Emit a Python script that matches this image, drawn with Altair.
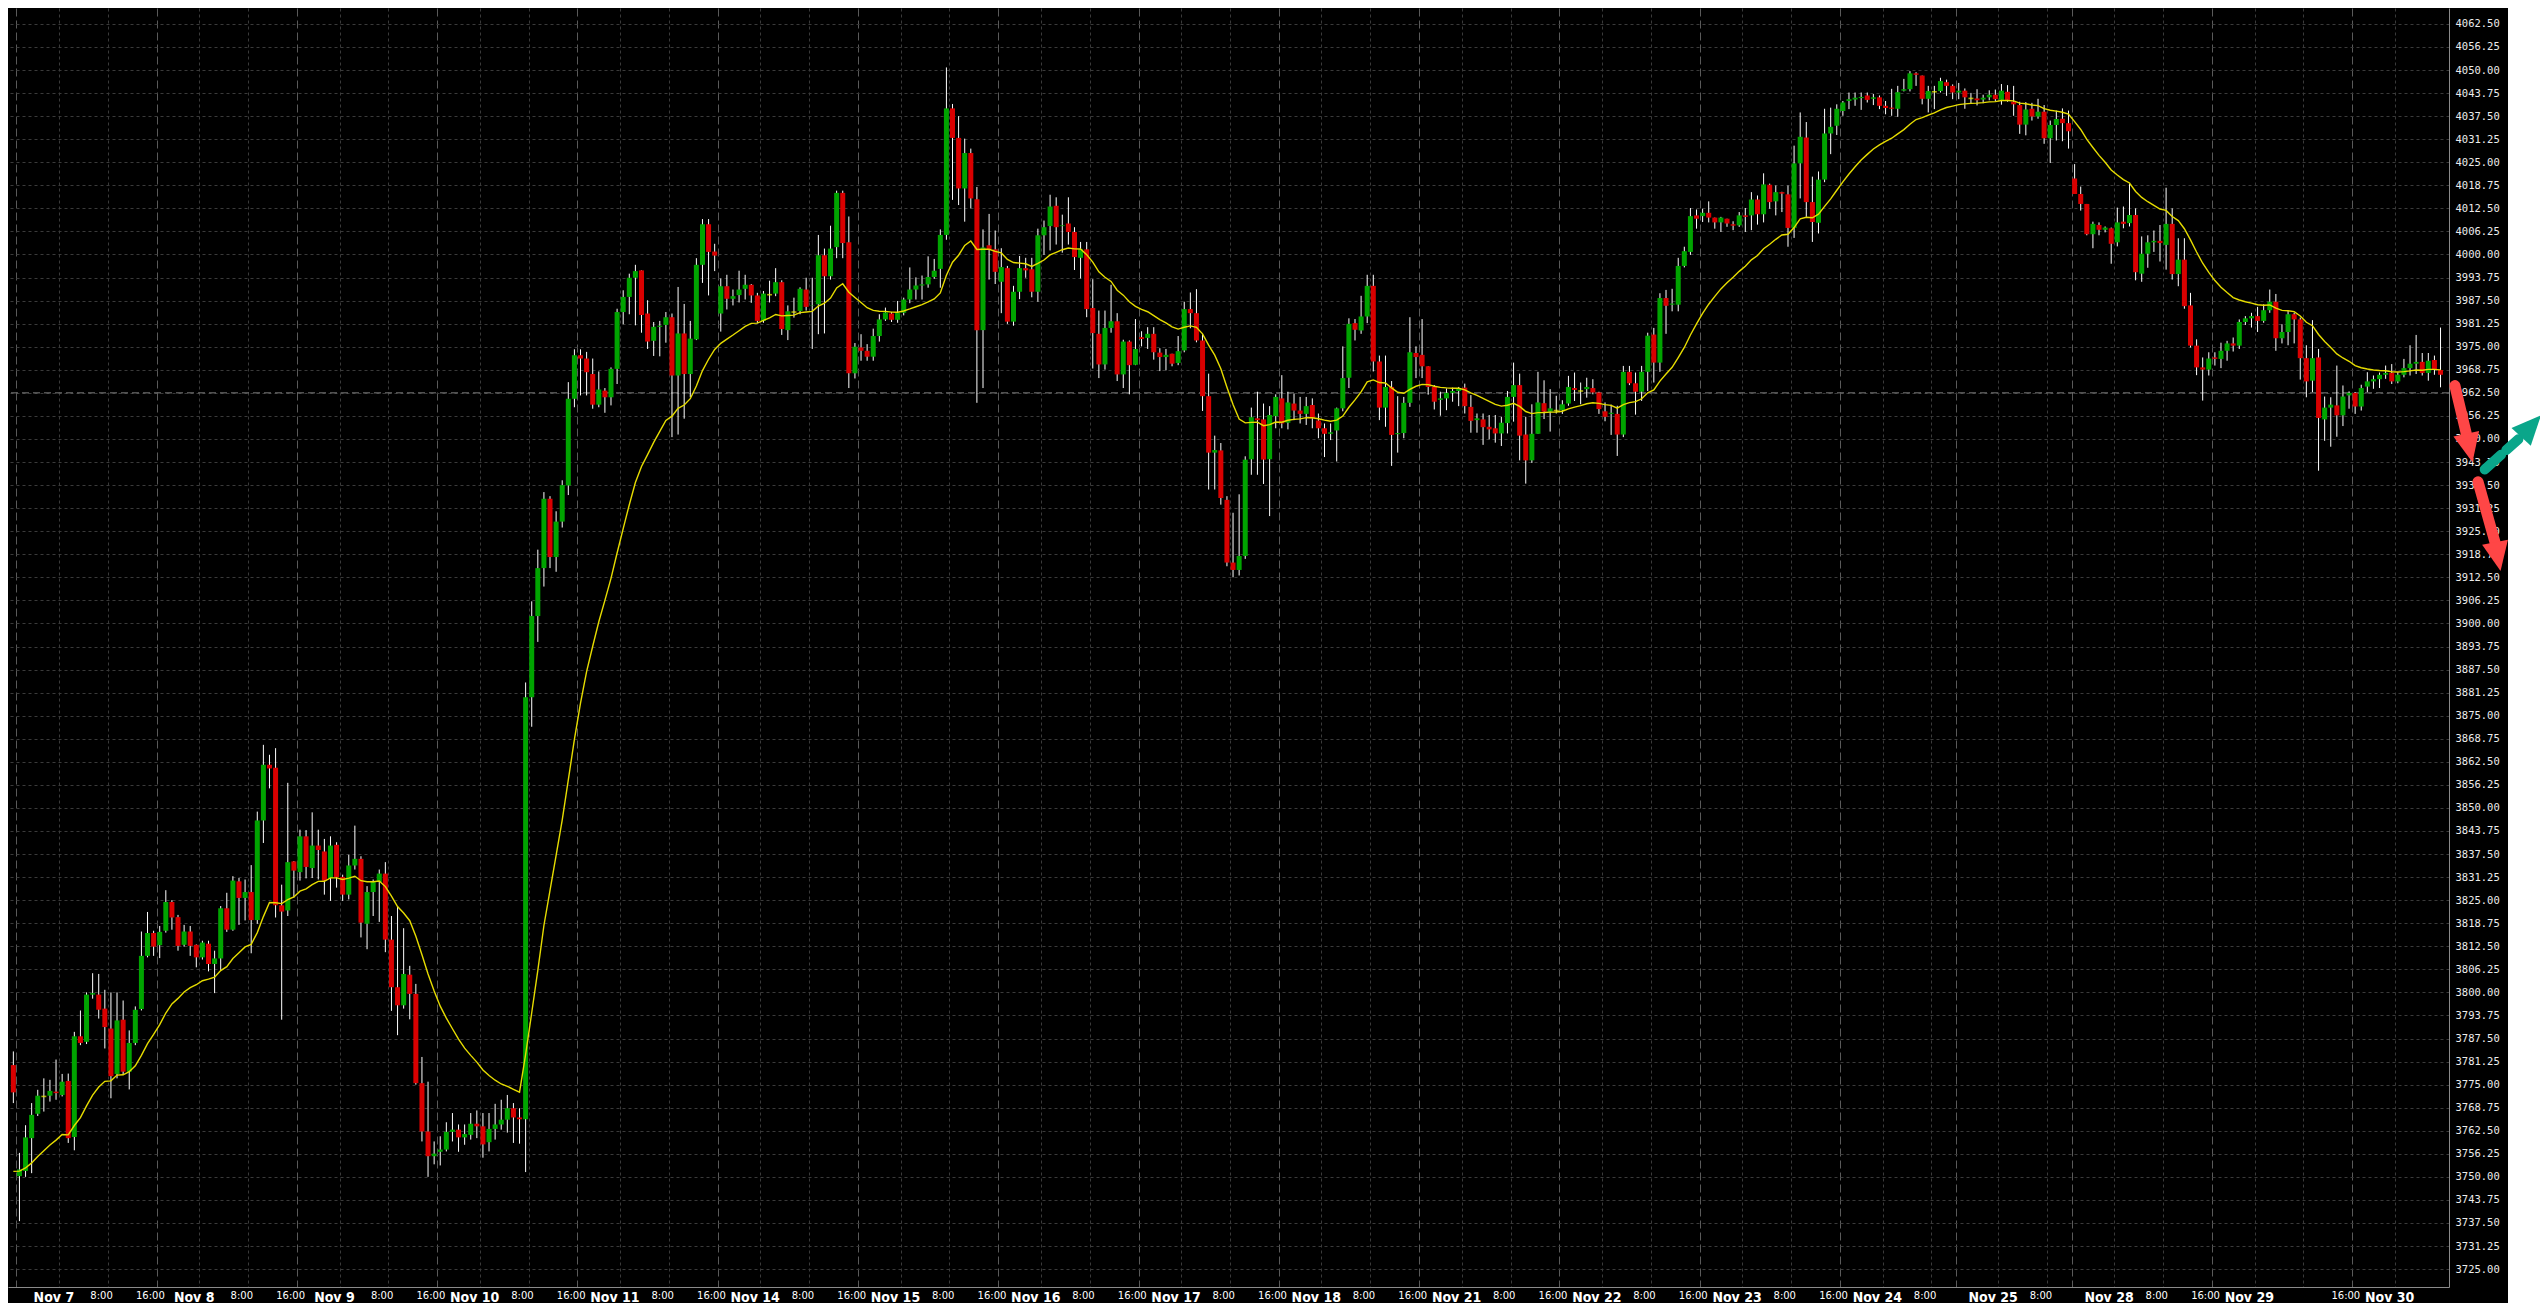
import json
import altair as alt
import pandas as pd

# ---------------- data (hourly candles, bar 0 = last bar of Nov 4) ----------------
day_names = ["Nov 7", "Nov 8", "Nov 9", "Nov 10", "Nov 11", "Nov 14", "Nov 15", "Nov 16", "Nov 17",
             "Nov 18", "Nov 21", "Nov 22", "Nov 23", "Nov 24", "Nov 25", "Nov 28", "Nov 29", "Nov 30"]
bars_per_day = [23] * 13 + [19, 19, 23, 23, 15]
hour_labels = ["8:00", "16:00"]
days_without_16 = ["Nov 24", "Nov 25"]

opens = [3780.3,
 3750.2,3751.6,3760.5,3767.1,3771.8,3772.0,3773.1,3772.2,3776.0,3760.8,3788.1,3786.6,3799.4,3799.4,3795.6,3790.2,3777.9,3792.6,3778.5,3786.3,3795.5,3809.9,3816.1,
 3812.8,3816.7,3824.5,3820.4,3812.9,3816.5,3812.9,3809.5,3813.2,3807.7,3809.2,3822.8,3817.0,3830.1,3825.6,3827.2,3819.6,3846.6,3861.7,3860.9,3823.6,3822.2,3835.5,
 3832.6,3842.3,3833.7,3839.8,3838.2,3831.0,3840.0,3831.3,3826.5,3834.4,3836.2,3818.6,3827.2,3829.9,3832.2,3814.3,3801.4,3796.5,3804.8,3799.6,3775.4,3762.3,3755.6,
 3756.8,3757.4,3762.2,3762.8,3760.7,3761.4,3764.4,3763.7,3759.4,3763.0,3764.2,3765.5,3768.6,3766.1,3765.6,3880.0,3902.0,3915.0,3933.8,3918.0,3927.6,3937.4,3960.9,
 3972.7,3971.8,3967.6,3959.3,3963.1,3961.3,3969.0,3984.4,3988.5,3993.7,3995.7,3984.0,3976.6,3980.4,3980.9,3983.0,3967.2,3978.6,3967.6,3977.0,3997.2,4008.2,4000.8,
 3984.0,3991.4,3988.0,3989.0,3990.7,3991.8,3988.9,3982.0,3989.1,3989.4,3992.5,3979.5,3984.4,3984.7,3990.5,3986.2,3986.5,3999.8,3994.1,4002.0,4016.7,4003.3,3967.8,
 3974.8,3973.9,3972.3,3977.9,3982.4,3984.0,3982.3,3984.2,3987.8,3990.5,3991.6,3991.9,3993.9,3996.1,4005.3,4039.6,4031.6,4017.9,4027.5,4015.0,3979.5,4002.5,4001.4,
 3992.6,3996.3,3981.8,3989.9,3996.3,3996.0,3989.9,4005.2,4007.7,4013.2,4007.7,4008.4,4006.1,3999.1,4001.4,3985.5,3978.5,3970.2,3980.1,3981.9,3967.5,3976.4,3970.1,
 3977.6,3977.4,3978.5,3973.4,3972.2,3973.1,3970.6,3974.0,3985.2,3984.1,3976.7,3961.6,3946.3,3946.9,3933.5,3916.5,3914.5,3918.3,3944.5,3955.6,3955.3,3944.5,3956.2,
 3961.0,3954.4,3959.6,3957.7,3956.8,3959.2,3955.0,3952.9,3951.4,3952.3,3958.3,3966.6,3981.4,3979.4,3983.2,3991.5,3971.0,3958.5,3964.1,3951.3,3951.6,3959.8,3973.3,
 3972.8,3969.7,3964.1,3960.6,3961.0,3962.5,3963.0,3963.9,3958.7,3955.1,3955.3,3953.3,3952.9,3951.5,3954.3,3961.4,3964.6,3951.2,3944.2,3951.4,3959.7,3957.4,3957.7,
 3957.8,3959.6,3963.8,3963.0,3963.5,3963.8,3962.6,3957.5,3956.8,3956.8,3951.2,3968.2,3965.1,3962.8,3968.2,3978.3,3970.7,3988.2,3986.4,3986.4,3996.9,4000.7,4010.6,
 4010.4,4011.3,4010.0,4008.7,4009.7,4008.2,4007.9,4010.6,4010.6,4014.9,4010.9,4018.9,4014.4,4016.9,4016.3,4007.2,4024.7,4031.7,4014.2,4008.6,4020.3,4032.8,4034.9,
 4038.9,4041.6,4042.0,4042.4,4043.1,4042.2,4042.6,4040.3,4039.8,4039.5,4044.4,4044.8,4049.1,4048.5,4042.2,4044.1,4044.3,4046.7,4045.7,
 4043.9,4044.4,4042.3,4042.3,4042.0,4042.6,4043.3,4041.9,4044.1,4041.4,4040.5,4035.2,4039.5,4037.4,4038.7,4031.5,4035.1,4036.8,4035.6,
 4020.6,4016.4,4013.7,4005.5,4008.0,4006.7,4007.1,4003.3,4008.9,4008.5,4010.7,3994.8,4000.2,4003.3,4003.7,4002.6,4008.3,3994.7,3998.6,3986.2,3975.3,3969.4,3968.8,
 3972.1,3971.7,3973.9,3975.9,3975.3,3981.7,3982.7,3983.3,3982.0,3984.9,3987.2,3977.3,3979.0,3983.8,3982.4,3971.9,3965.8,3972.1,3955.3,3958.5,3959.1,3956.4,3961.8,
 3962.5,3958.8,3964.2,3965.6,3966.2,3967.4,3967.9,3965.6,3967.4,3969.2,3970.4,3970.9,3967.9,3971.4,3968.7]

highs = [3784.0,
 3756.5,3764.0,3770.0,3773.6,3776.7,3776.3,3781.8,3777.9,3778.0,3789.3,3795.1,3800.0,3805.2,3805.0,3800.7,3800.0,3800.0,3797.8,3789.7,3796.2,3816.5,3821.8,3816.7,
 3818.0,3827.7,3825.0,3821.0,3818.3,3818.0,3813.0,3814.0,3814.0,3811.3,3823.4,3827.0,3831.5,3831.0,3830.6,3834.5,3849.0,3867.1,3864.4,3866.2,3829.2,3856.8,3835.6,
 3844.1,3844.0,3848.8,3844.1,3841.6,3842.3,3840.7,3831.9,3837.3,3845.2,3836.9,3828.8,3830.6,3833.3,3835.3,3820.7,3823.4,3817.4,3807.2,3802.3,3782.5,3775.8,3759.6,
 3761.0,3764.8,3767.3,3764.2,3764.2,3767.3,3768.0,3767.3,3767.3,3769.8,3770.9,3772.2,3770.0,3768.6,3884.0,3906.0,3920.0,3935.6,3934.5,3930.4,3938.8,3965.4,3974.3,
 3974.3,3973.6,3971.8,3968.3,3963.8,3969.4,3985.3,3990.3,3994.8,3997.2,3995.7,3987.6,3981.7,3982.0,3984.4,3984.0,3991.2,3986.6,3982.0,3999.0,4009.6,4009.6,4002.9,
 3993.5,3994.5,3990.5,3995.6,3994.5,3992.0,3989.6,3990.1,3992.9,3996.3,3993.0,3986.2,3988.3,3991.1,3993.7,3993.7,4005.3,4001.6,4007.8,4017.3,4017.3,4010.3,3976.0,
 3978.4,3975.7,3979.9,3983.8,3985.6,3984.4,3987.4,3988.3,3996.5,3993.8,3994.3,3999.5,3998.8,4006.8,4050.7,4040.8,4037.5,4031.4,4028.7,4018.3,4006.8,4011.0,4006.5,
 4001.7,3996.9,3991.5,3999.6,3999.1,3999.1,4007.0,4009.2,4016.2,4015.5,4010.8,4015.5,4007.4,4003.4,4003.4,3993.3,3984.8,3984.8,3991.8,3984.1,3976.9,3976.7,3982.5,
 3979.2,3980.3,3980.3,3974.6,3974.4,3973.1,3977.9,3987.2,3989.7,3990.6,3978.5,3967.7,3950.9,3948.9,3934.5,3930.0,3935.0,3945.3,3958.5,3962.8,3959.6,3958.9,3962.1,
 3967.3,3962.8,3962.3,3961.4,3961.4,3961.0,3956.9,3954.2,3954.2,3958.5,3975.1,3982.7,3982.5,3988.8,3994.5,3994.5,3972.6,3972.6,3965.7,3961.6,3961.4,3983.0,3975.1,
 3982.5,3969.7,3964.6,3962.8,3963.7,3963.9,3964.1,3965.0,3961.9,3956.9,3956.9,3956.5,3956.5,3956.0,3963.0,3970.7,3967.7,3956.0,3959.4,3968.2,3965.9,3963.5,3961.7,
 3960.5,3967.1,3968.0,3965.3,3966.6,3966.2,3962.8,3959.9,3959.3,3959.0,3969.8,3969.8,3968.0,3969.8,3978.8,3980.1,3989.5,3990.4,3990.7,3999.1,4002.1,4012.6,4012.2,
 4012.4,4014.4,4010.0,4010.2,4009.7,4009.0,4011.5,4012.6,4016.9,4016.0,4022.0,4019.2,4018.7,4017.0,4018.7,4029.5,4038.5,4035.9,4021.1,4022.5,4039.5,4039.8,4040.7,
 4041.6,4043.9,4043.9,4043.9,4043.9,4043.5,4043.1,4041.6,4044.9,4045.7,4047.6,4049.7,4049.4,4048.5,4045.7,4045.7,4047.9,4047.4,4046.1,
 4046.5,4045.0,4043.8,4044.8,4043.3,4044.5,4044.7,4046.2,4045.9,4045.7,4041.4,4041.3,4041.1,4042.2,4040.5,4036.3,4039.0,4039.6,4039.0,
 4024.5,4018.4,4013.7,4008.9,4008.7,4007.6,4007.3,4012.7,4013.0,4019.1,4012.5,4004.9,4005.2,4006.5,4008.0,4018.1,4012.5,4004.4,4004.4,3989.6,3977.0,3972.1,3973.5,
 3973.5,3976.1,3976.6,3977.5,3982.4,3983.3,3984.2,3985.8,3986.5,3990.5,3989.3,3981.1,3984.7,3984.2,3982.9,3975.4,3982.2,3974.4,3961.5,3961.3,3969.9,3964.5,3962.9,
 3962.7,3964.7,3968.1,3967.2,3968.0,3969.9,3970.3,3968.1,3971.7,3975.4,3978.2,3973.3,3973.3,3972.6,3980.2]

lows = [3770.0,
 3738.0,3750.0,3751.0,3766.5,3767.7,3770.4,3770.9,3771.8,3759.2,3757.2,3785.7,3786.0,3798.3,3792.9,3784.8,3771.3,3776.7,3777.6,3773.7,3785.7,3795.1,3809.5,3809.9,
 3809.3,3816.2,3817.0,3811.3,3812.4,3809.9,3806.8,3808.9,3805.7,3799.8,3806.1,3816.4,3816.7,3818.3,3819.5,3810.6,3818.6,3840.5,3855.3,3820.3,3792.6,3820.7,3825.7,
 3830.3,3830.9,3831.0,3830.6,3826.5,3824.8,3828.4,3824.8,3825.2,3833.3,3814.9,3811.7,3820.7,3819.1,3810.9,3795.0,3788.4,3795.6,3792.7,3775.0,3759.6,3750.0,3753.4,
 3753.1,3756.9,3759.6,3756.8,3758.7,3760.1,3760.5,3755.2,3756.9,3760.1,3762.8,3762.0,3759.2,3759.0,3751.3,3872.0,3895.0,3910.0,3915.0,3914.0,3926.0,3934.8,3958.6,
 3961.8,3961.8,3958.2,3958.6,3957.1,3959.1,3964.9,3981.1,3983.8,3980.8,3978.8,3974.4,3972.5,3972.4,3976.1,3950.5,3951.2,3955.5,3961.3,3976.8,3992.3,3988.9,3995.5,
 3979.1,3985.1,3986.2,3987.0,3987.8,3986.9,3981.4,3981.5,3987.0,3988.7,3978.2,3976.8,3982.9,3983.8,3984.8,3974.4,3978.4,3978.6,3993.2,3999.0,3999.0,3963.8,3966.4,
 3971.2,3971.2,3971.2,3976.4,3982.0,3981.7,3981.5,3983.5,3986.8,3987.8,3987.8,3991.0,3993.4,3991.0,4004.0,4014.8,4013.4,4008.9,4012.5,3959.8,3963.8,3993.2,3992.0,
 3984.1,3981.2,3980.7,3987.9,3993.7,3988.4,3987.2,3999.9,4001.1,4002.7,4000.5,4002.7,3995.8,3993.5,3983.0,3969.1,3966.5,3968.8,3978.8,3965.7,3963.8,3962.1,3970.0,
 3975.1,3974.4,3971.5,3968.4,3968.6,3969.7,3970.0,3973.5,3980.0,3976.2,3957.6,3936.3,3936.3,3932.2,3915.5,3912.5,3913.0,3917.5,3940.3,3940.3,3937.8,3929.1,3952.9,
 3952.9,3952.6,3955.1,3954.2,3953.8,3952.9,3950.2,3945.1,3949.7,3943.9,3957.5,3963.8,3976.7,3978.5,3981.4,3968.3,3955.1,3953.3,3942.7,3946.3,3950.2,3958.7,3966.5,
 3966.5,3962.0,3958.0,3956.3,3957.8,3960.1,3958.9,3956.9,3951.7,3951.7,3948.4,3949.9,3949.0,3948.1,3951.5,3954.7,3944.2,3937.9,3943.5,3951.4,3955.4,3952.0,3956.9,
 3956.8,3959.0,3960.3,3959.4,3961.2,3962.1,3956.8,3954.8,3951.1,3945.4,3950.5,3964.6,3956.6,3960.3,3963.0,3965.3,3968.2,3978.5,3984.6,3984.6,3996.5,3999.9,4007.0,
 4008.8,4008.7,4007.0,4006.1,4007.5,4006.6,4007.5,4006.1,4006.6,4008.1,4008.7,4012.4,4010.6,4011.5,4002.1,4004.5,4015.2,4010.2,4003.4,4005.7,4019.6,4027.2,4032.4,
 4037.6,4039.4,4040.3,4039.2,4041.2,4040.5,4039.4,4038.0,4037.6,4037.3,4044.2,4044.2,4045.7,4040.7,4038.5,4039.4,4043.9,4043.0,4042.1,
 4042.1,4039.5,4040.8,4040.4,4041.0,4041.8,4041.6,4040.6,4041.4,4037.6,4032.7,4032.3,4036.3,4036.8,4030.0,4024.8,4030.9,4030.7,4028.7,
 4016.4,4011.9,4005.2,4001.7,4005.2,4006.0,3997.5,4002.2,4007.1,4007.6,3993.0,3992.6,3996.4,4000.7,3998.1,3995.9,3993.2,3991.4,3985.3,3974.8,3967.3,3960.4,3967.2,
 3969.9,3969.2,3971.2,3973.7,3974.4,3980.9,3980.2,3979.0,3981.5,3984.2,3973.9,3975.9,3975.4,3975.9,3966.1,3961.3,3962.7,3941.4,3949.5,3947.9,3950.6,3953.5,3958.2,
 3956.8,3957.7,3962.7,3963.6,3963.8,3966.3,3964.9,3965.1,3966.7,3967.2,3967.6,3967.2,3965.8,3967.4,3964.0]

closes = [3772.9,
 3752.0,3760.7,3766.8,3772.0,3771.8,3773.3,3772.7,3775.8,3760.5,3788.1,3786.3,3799.4,3799.8,3795.3,3790.6,3777.3,3792.4,3778.5,3786.3,3795.3,3809.9,3816.1,3812.4,
 3816.4,3824.5,3820.3,3812.6,3816.5,3812.6,3809.5,3813.5,3807.7,3809.2,3822.8,3817.0,3830.3,3825.6,3827.2,3819.6,3846.6,3861.7,3860.7,3823.6,3821.9,3835.3,3833.0,
 3842.3,3834.0,3839.8,3838.6,3830.3,3839.8,3831.2,3826.5,3834.4,3836.2,3818.9,3827.2,3829.9,3832.2,3814.3,3801.4,3796.5,3805.0,3799.6,3775.4,3762.3,3755.6,3756.3,
 3757.4,3762.2,3762.8,3760.7,3761.6,3764.4,3763.7,3758.8,3763.0,3764.2,3765.5,3768.6,3766.1,3765.6,3880.0,3902.0,3915.0,3933.8,3918.0,3927.6,3937.5,3960.9,3972.7,
 3971.8,3968.1,3959.3,3963.4,3961.3,3969.0,3984.4,3988.5,3993.7,3995.5,3983.6,3976.4,3980.4,3980.7,3983.0,3967.2,3978.6,3967.6,3977.2,3997.2,4008.2,4000.7,3999.7,
 3991.4,3988.0,3988.7,3990.5,3991.8,3988.9,3982.0,3989.4,3989.1,3992.5,3979.8,3984.6,3984.4,3990.7,3985.8,3986.3,3999.8,3994.1,4001.6,4016.7,4003.1,3967.8,3975.0,
 3973.9,3972.3,3977.9,3982.4,3984.3,3982.3,3984.2,3987.8,3990.5,3991.6,3991.9,3993.9,3995.6,4005.3,4039.6,4031.6,4017.9,4027.5,4015.2,3979.5,4001.9,4001.4,3995.3,
 3996.6,3981.8,3989.9,3996.3,3995.7,3989.9,4005.2,4007.4,4013.0,4007.4,4007.9,4006.1,3999.3,4001.4,3985.2,3978.7,3970.2,3980.1,3981.9,3967.5,3976.4,3970.0,3974.4,
 3977.1,3978.5,3973.5,3972.2,3972.8,3970.4,3973.8,3985.2,3984.1,3976.7,3961.6,3946.3,3947.0,3934.0,3916.5,3914.5,3918.3,3944.4,3955.9,3955.1,3944.4,3956.5,3961.4,
 3954.2,3959.9,3957.7,3956.8,3958.9,3955.6,3952.9,3951.4,3951.8,3958.3,3966.5,3981.2,3979.6,3983.2,3991.5,3971.0,3958.5,3964.1,3951.1,3951.6,3959.8,3973.5,3972.2,
 3969.7,3964.1,3960.1,3961.0,3962.5,3963.0,3963.7,3958.9,3954.9,3955.6,3953.2,3952.6,3951.5,3954.4,3961.4,3964.6,3950.9,3944.2,3951.4,3959.9,3957.4,3958.3,3957.7,
 3959.4,3964.1,3963.3,3963.0,3964.1,3962.6,3958.1,3956.0,3957.1,3951.2,3968.2,3965.1,3962.8,3968.2,3978.0,3970.7,3988.2,3986.1,3986.7,3996.9,4000.9,4010.4,4009.7,
 4011.3,4010.0,4008.7,4010.0,4008.4,4007.8,4010.6,4010.2,4014.9,4010.9,4019.0,4014.2,4016.9,4016.5,4007.2,4024.7,4031.9,4014.2,4008.8,4020.3,4032.8,4034.6,4039.5,
 4041.2,4042.1,4042.5,4042.7,4041.9,4042.6,4040.3,4039.7,4039.5,4044.0,4044.8,4049.1,4048.7,4042.2,4044.3,4044.1,4047.0,4045.7,4043.9,
 4044.4,4042.6,4042.3,4041.8,4042.5,4043.3,4042.1,4044.4,4041.9,4040.7,4035.2,4039.3,4037.4,4038.7,4031.5,4035.1,4036.7,4035.6,4033.4,
 4016.4,4013.7,4005.5,4008.3,4006.7,4007.3,4002.9,4008.7,4008.3,4010.7,3995.2,4000.2,4003.3,4003.7,4003.1,4008.3,3994.7,3998.6,3986.0,3975.3,3969.4,3968.8,3971.8,
 3971.7,3973.9,3975.9,3975.3,3981.7,3982.7,3983.3,3982.0,3984.9,3987.2,3977.3,3979.0,3983.8,3982.4,3971.9,3965.6,3971.9,3955.7,3958.5,3959.3,3956.4,3961.5,3962.5,
 3958.8,3963.8,3965.6,3966.2,3967.4,3967.9,3965.6,3967.4,3969.2,3970.4,3970.9,3967.9,3971.2,3968.9,3967.4]

# moving average (exponential, 20 periods) of the closes, value at the left edge
ema_period = 20
ema_start = 3751.5

# horizontal dashed level line
levels = [3962.5]

# hand-drawn arrows on the right (bar index / price units)
arrow_ids = ["r1", "r1", "r2", "r2"]
arrow_j = [400.36, 402.23, 404.15, 406.93]
arrow_p = [3964.46, 3951.39, 3938.41, 3922.03]
teal_j = [405.24, 410.77]
teal_p = [3941.75, 3949.91]
head_j = [402.73, 407.39, 412.84]
head_p = [3947.55, 3918.10, 3953.47]
head_angle = [347.7, 349.1, 222.7]
head_color = ["#ff4646", "#ff4646", "#0aa68a"]

# ---------------- tables ----------------
n = len(closes)
alpha = 2.0 / (ema_period + 1)
ema = [ema_start]
for c in closes[1:]:
    ema.append(ema[-1] + alpha * (c - ema[-1]))

candles = pd.DataFrame({"j": list(range(n)), "o": opens, "h": highs, "l": lows, "c": closes, "ema": ema})

first_bars = []
f = 1
for cnt in bars_per_day:
    first_bars.append(f)
    f += cnt

tick_vals, tick_labs, day_ticks = [], [], []
for name, fb, cnt in zip(day_names, first_bars, bars_per_day):
    tick_vals.append(fb - 0.5); tick_labs.append(name); day_ticks.append(fb - 0.5)
    if cnt > 7:
        tick_vals.append(fb + 6.5)
        tick_labs.append(hour_labels[0] if fb + 40 < n else "")
    if cnt > 15:
        tick_vals.append(fb + 14.5)
        tick_labs.append("" if name in days_without_16 else hour_labels[1])

label_expr = f"{json.dumps(tick_labs)}[indexof({json.dumps(tick_vals)}, datum.value)]"
is_day = f"indexof({json.dumps(day_ticks)}, datum.value) >= 0"

ytick_vals = [3725 + 6.25 * k for k in range(55)]

# ---------------- scales / axes ----------------
xscale = alt.Scale(domain=[-0.058, 398.57], nice=False, zero=False)
yscale = alt.Scale(domain=[3720.15, 4066.81], nice=False, zero=False)

day_font = "Liberation Sans Narrow, DejaVu Sans Condensed, Liberation Sans, DejaVu Sans, sans-serif"

xaxis = alt.Axis(
    values=tick_vals, labelExpr=label_expr, title=None,
    grid=True,
    gridColor={"condition": {"test": is_day, "value": "#5a5a5a"}, "value": "#3a3a3a"},
    gridDash={"condition": {"test": is_day, "value": [8, 4]}, "value": [3, 3]},
    gridWidth=1, ticks=False, domainColor="#8a8a8a",
    labelColor="#ffffff",
    labelFont={"condition": {"test": is_day, "value": day_font}, "value": "DejaVu Sans, sans-serif"},
    labelFontSize={"condition": {"test": is_day, "value": 14}, "value": 10},
    labelFontWeight={"condition": {"test": is_day, "value": "bold"}, "value": "normal"},
    labelOffset={"condition": {"test": is_day, "value": 37}, "value": 42},
    labelAlign="center", labelBaseline="top", labelPadding=3,
    labelOverlap=False, labelBound=False, labelFlush=False,
)
yaxis = alt.Axis(
    values=ytick_vals, format=".2f", orient="right", title=None,
    grid=True, gridColor="#3a3a3a", gridDash=[3, 3], ticks=False, domainColor="#8a8a8a",
    labelColor="#ececec", labelFont="DejaVu Sans Mono, monospace", labelFontSize=10.5, labelPadding=6,
    labelAlign="left", labelBaseline="middle",
    labelOverlap=False, labelBound=False, labelFlush=False,
)

X = alt.X("j:Q", scale=xscale, axis=xaxis)


def Y(field):
    return alt.Y(f"{field}:Q", scale=yscale, axis=yaxis)


base = alt.Chart(candles)

level = alt.Chart(pd.DataFrame({"level": levels})).mark_rule(
    color="#7c7c7c", strokeDash=[7, 4], strokeWidth=1
).encode(y=Y("level"))

wicks = base.mark_rule(color="#ffffff", strokeWidth=1).encode(x=X, y=Y("l"), y2="h")

bodies = base.transform_filter("datum.c != datum.o").mark_bar(size=5).encode(
    x=X, y=Y("o"), y2="c",
    color=alt.condition("datum.c > datum.o", alt.value("#00a400"), alt.value("#d90000")),
)

dojis = base.transform_filter("datum.c == datum.o").mark_tick(
    orient="horizontal", size=5, thickness=1.6, color="#f0f000"
).encode(x=X, y=Y("o"))

ema_line = base.mark_line(color="#e6dc00", strokeWidth=1.4).encode(x=X, y=Y("ema"))

white_strip = alt.Chart(pd.DataFrame({"k": [0]})).mark_rect(color="#ffffff").encode(
    x=alt.value(2500), x2=alt.value(2560), y=alt.value(-20), y2=alt.value(1320)
)

red_shafts = alt.Chart(pd.DataFrame({"arrow": arrow_ids, "j": arrow_j, "p": arrow_p, "k": [0, 1, 0, 1]})).mark_line(
    color="#ff4646", strokeWidth=11, strokeCap="round"
).encode(x=X, y=Y("p"), detail="arrow:N", order="k:Q")

teal_shaft = alt.Chart(pd.DataFrame({"j": teal_j, "p": teal_p, "k": [0, 1]})).mark_line(
    color="#0aa68a", strokeWidth=10, strokeCap="round", strokeDash=[22, 7]
).encode(x=X, y=Y("p"), order="k:Q")

heads = alt.Chart(pd.DataFrame({"j": head_j, "p": head_p, "ang": head_angle, "col": head_color})).mark_point(
    shape="M -0.9 -1 L 0.9 -1 L 0 1 Z", filled=True, size=850, opacity=1, strokeWidth=0
).encode(
    x=X, y=Y("p"),
    angle=alt.Angle("ang:Q", scale=None),
    color=alt.Color("col:N", scale=None),
)

chart = alt.layer(
    level, wicks, bodies, dojis, ema_line, white_strip, red_shafts, teal_shaft, heads
).properties(
    width=2441, height=1279,
    padding={"left": 0, "top": 0, "right": 91, "bottom": 16},
    autosize=alt.AutoSizeParams(type="none"),
    background="#000000",
).configure_view(fill="#000000", strokeWidth=0)

chart.save("out.html", embed_options={"renderer": "svg", "actions": False})
